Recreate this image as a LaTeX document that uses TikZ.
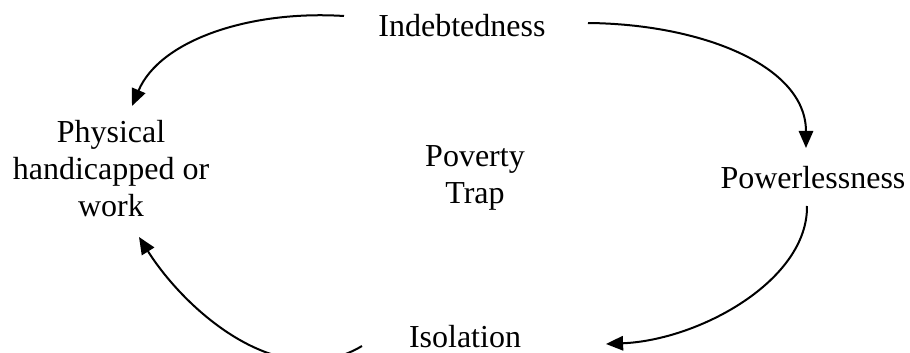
\documentclass[tikz,border=0pt]{standalone}
\usepackage{fontspec}
\setmainfont{Liberation Serif}
\usetikzlibrary{arrows.meta}

\begin{document}
\begin{tikzpicture}[x=0.375pt,y=-0.375pt,
    lbl/.style={font=\fontsize{12}{13.9}\selectfont, align=center, anchor=base, inner sep=0pt},
    cyc/.style={line width=0.75pt, -{Triangle[length=6.4pt,width=5.4pt]}}]
  \useasboundingbox (0,0) rectangle (910,353);

  % text positions (baseline of last line)
  \coordinate (D) at (462,36);
  \coordinate (P) at (111,217);
  \coordinate (W) at (813,189);
  \coordinate (I) at (465,347);
  \coordinate (T) at (475,204);

  \node[lbl] (debt) at (D) {Indebtedness};
  \node[lbl] (phys) at (P) {Physical\\handicapped or\\work};
  \node[lbl] (power) at (W) {Powerlessness};
  \node[lbl] (iso) at (I) {Isolation};
  \node[lbl] (trap) at (T) {Poverty\\Trap};

  % arrow ends
  \coordinate (debtL) at (344,16);
  \coordinate (debtR) at (588,23);
  \coordinate (physT) at (132,106);
  \coordinate (physB) at (139,237);
  \coordinate (powerT) at (806,148);
  \coordinate (powerB) at (807,206);
  \coordinate (isoL) at (362,346);
  \coordinate (isoR) at (606,344);

  \draw[cyc] (debtL) .. controls (250,10) and (160,40) .. (physT);
  \draw[cyc] (debtR) .. controls (700,24) and (806,65) .. (powerT);
  \draw[cyc] (powerB) .. controls (808,280) and (700,340) .. (isoR);
  \draw[cyc] (isoL) .. controls (280,395) and (185,310) .. (physB);
\end{tikzpicture}
\end{document}
